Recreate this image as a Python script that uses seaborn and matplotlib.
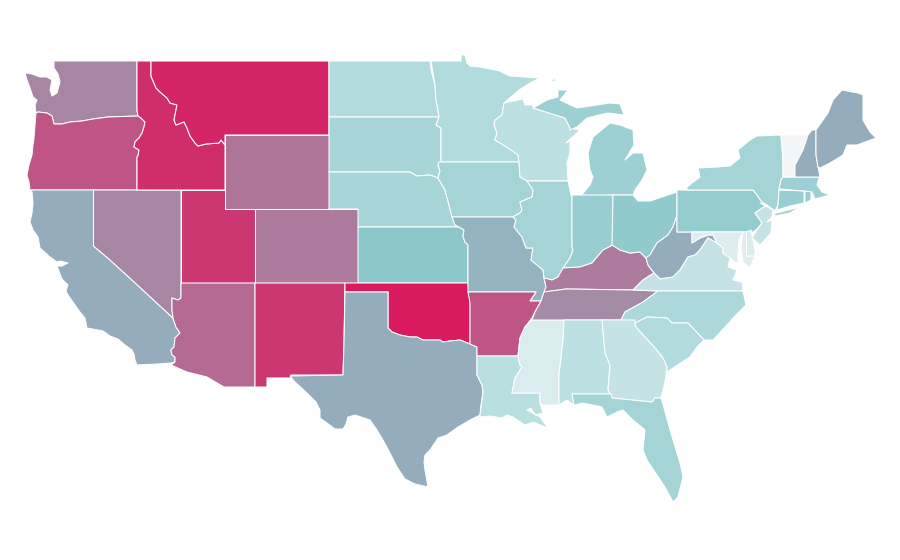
import matplotlib
matplotlib.use("Agg")
import matplotlib.pyplot as plt
from matplotlib.collections import PolyCollection
from matplotlib.colors import Normalize
import seaborn as sns

# State values on a 0-100 scale
states = ["WA","OR","CA","NV","ID","MT","WY","UT","AZ","CO","NM","ND","SD","NE","KS","OK","TX",
          "MN","IA","MO","AR","LA","WI","IL","MS","MI","IN","KY","TN","AL","OH","WV","VA","NC",
          "SC","GA","FL","PA","NY","MD","DE","NJ","CT","RI","MA","VT","NH","ME"]
values = [63,80,50,63,93,96,69,90,73,67,90,16,18,18,25,100,50,
          16,19,44,80,14,13,19,6,21,22,67,61,13,24,50,11,17,
          16,11,19,23,19,5,6,11,22,22,21,0,50,50]
scale_colors = ["#f4f5f7","#bfe1e3","#8cc8cb","#90bac3","#94adbc","#a688a5","#b7648e","#c83f76","#d91a5f"]

# Hand-traced, simplified outlines of the states (map geometry in figure pixels)
outlines = {
"WA":[[(54,61),(137,61),(137,110),(138,116),(108,117),(93,119),(82,121),(70,122),(62,124),(54,124),(52,116),(47,113),(38,112),(36,113),(35,105),(37,100),(33,97),(30,88),(27,80),(25,73),(32,74),(40,77),(47,77),(52,80),(50,90),(52,96),(57,93),(60,82),(58,74),(54,68)]],
"OR":[[(36,113),(38,112),(47,113),(52,116),(54,124),(62,124),(70,122),(82,121),(93,119),(108,117),(138,116),(141,118),(145,122),(144,127),(142,133),(139,138),(135,142),(134,147),(139,150),(138,156),(137,157),(137,190),(30,190),(29,182),(27,175),(29,165),(32,155),(33,145),(34,138),(35,125)]],
"CA":[[(31,190),(93.5,190),(93.5,246),(110,260),(132,280),(173,318),(176,327),(180,333),(175,338),(174,347),(171,350),(172,355),(175,357),(175,362),(171,363),(157,364),(137,365),(135,360),(134,354),(132,350),(125,345),(118,339),(110,336),(103,331),(98,330),(87,328),(85,318),(80,312),(75,305),(68,295),(66,291),(68,285),(62,279),(60,274),(57,266),(62,266),(68,263),(60,261),(57,262),(50,257),(40,248),(38,237),(33,230),(30,222),(32,213),(33,203),(32,192)]],
"NV":[[(93.5,190),(181,190),(181,298),(178,300),(172,298),(172,310),(173,318),(132,280),(110,260),(93.5,246)]],
"ID":[[(137,61),(151,61),(151,76),(156,88),(160,92),(167,98),(170,103),(177,105),(175,115),(174,120),(176,125),(184,122),(187,128),(190,136),(195,143),(198,146),(206,144),(219,143),(221,140),(225,145),(225,190),(137,190),(137,157),(138,156),(139,150),(134,147),(135,142),(139,138),(142,133),(144,127),(145,122),(141,118),(138,116),(137,110)]],
"MT":[[(151,61),(329,61),(329,135),(225,135),(225,145),(221,140),(219,143),(206,144),(198,146),(195,143),(190,136),(187,128),(184,122),(176,125),(174,120),(175,115),(177,105),(170,103),(167,98),(160,92),(156,88),(151,76)]],
"WY":[[(225,135),(329,135),(329,209),(225,209)]],
"UT":[[(181,190),(225,190),(225,209),(255,209),(255,283),(181,283)]],
"AZ":[[(181,283),(255,283),(255,387),(224,387),(207,377),(187,372),(171,365),(175,362),(175,357),(172,355),(171,350),(174,347),(175,338),(180,333),(176,327),(173,318),(172,310),(172,298),(178,300),(181,298)]],
"CO":[[(255,209),(358,209),(358,283),(255,283)]],
"NM":[[(255,283),(345,283),(344,343),(343,375),(291,375),(291,378),(267,378),(267,387),(255,387)]],
"ND":[[(329,61),(430,61),(431,70),(435,85),(436,100),(438,110),(439,117),(329,117)]],
"SD":[[(329,117),(439,117),(436,125),(441,128),(441,162),(438,165),(440,171),(438,178),(430,175),(417,176),(410,172),(345,172),(329,172)]],
"NE":[[(329,172),(345,172),(410,172),(417,176),(430,175),(438,178),(445,190),(449,205),(452,216),(455,225),(459,227),(358,227),(358,209),(329,209)]],
"KS":[[(358,227),(459,227),(464,230),(463,236),(465,242),(468,245),(468,283),(358,283)]],
"OK":[[(345,283),(468,283),(470,303),(470,344),(460,340),(450,341),(443,342),(440,340),(433,340),(423,340),(417,337),(410,337),(400,335),(392,332),(388,328),(388,292),(345,292)]],
"TX":[[(345,292),(388,292),(388,328),(392,332),(400,335),(410,337),(417,337),(423,340),(433,340),(440,340),(443,342),(450,341),(460,340),(470,344),(477,347),(477,375),(482,385),(483,392),(481,405),(480,415),(470,420),(458,427),(447,435),(438,438),(430,450),(425,455),(424,462),(425,470),(428,487),(415,484),(405,479),(397,467),(390,453),(383,440),(377,430),(370,420),(355,415),(348,417),(346,424),(343,429),(335,429),(327,423),(320,418),(320,410),(316,402),(307,393),(295,382),(290,376),(343,375),(344,343)]],
"MN":[[(431,61),(461,61),(461,55),(465,55),(467,63),(470,66),(480,67),(490,69),(500,71),(503,73),(510,76),(525,77),(540,78),(530,83),(519,90),(504,103),(502,115),(495,120),(494,125),(497,133),(495,140),(505,146),(515,152),(518,155),(519,162),(441,162),(441,128),(436,125),(439,117),(438,110),(436,100),(435,85)]],
"IA":[[(439,162),(519,162),(520,177),(527,181),(533,190),(532,197),(520,202),(522,210),(520,213),(513,217),(452,217),(449,205),(445,190),(438,178),(440,171),(438,165)]],
"MO":[[(452,217),(513,217),(516,220),(514,227),(522,237),(526,248),(533,248),(531,260),(543,270),(544,278),(546,287),(541,301),(530,301),(536,292),(468,292),(468,245),(465,242),(463,236),(464,230),(459,227),(455,225)]],
"AR":[[(468,292),(536,292),(530,301),(541,301),(535,312),(532,318),(525,327),(520,338),(518,356),(477,356),(477,347),(470,344),(470,303)]],
"LA":[[(477,356),(518,356),(520,365),(522,367),(515,378),(512,393),(540,393),(540,403),(543,413),(535,415),(531,408),(527,410),(540,417),(548,428),(533,422),(525,425),(513,417),(507,415),(502,418),(490,416),(480,417),(480,415),(483,392),(482,385),(477,375)]],
"WI":[[(504,103),(523,99),(525,105),(533,105),(533,108),(565,118),(570,128),(580,130),(566,143),(570,140),(570,153),(567,163),(568,181),(527,181),(520,177),(519,162),(518,155),(505,146),(495,140),(497,133),(494,125),(495,120),(502,115)]],
"IL":[[(527,181),(568,181),(571,195),(572,197),(572,247),(573,250),(570,258),(565,267),(563,272),(558,277),(552,280),(544,278),(543,270),(531,260),(533,248),(526,248),(522,237),(514,227),(516,220),(513,217),(520,213),(522,210),(520,202),(532,197),(533,190)]],
"MS":[[(532,320),(564,320),(563,340),(559,375),(559,405),(543,405),(540,403),(540,393),(512,393),(515,378),(522,367),(520,365),(518,356),(520,338),(525,327)]],
"MI":[[(580,197),(590,185),(593,177),(590,170),(588,153),(593,137),(610,123),(620,125),(633,130),(634,145),(625,160),(633,153),(643,153),(647,170),(642,180),(635,190),(633,195),(613,195)],
      [(533,108),(547,100),(558,97),(558,90),(568,90),(560,100),(577,108),(597,105),(610,103),(620,104),(624,115),(608,113),(603,114),(587,118),(577,127),(570,130),(570,128),(565,118)],
      [(549,82),(556,78),(555,81)]],
"IN":[[(572,195),(613,195),(613,245),(603,250),(592,263),(580,267),(563,268),(570,258),(573,250),(572,247)]],
"OH":[[(613,195),(633,195),(638,201),(650,201),(677,192),(677,215),(673,227),(668,235),(657,243),(650,255),(646,258),(640,252),(630,253),(620,250),(612,245)]],
"KY":[[(544,278),(552,280),(558,277),(563,268),(580,267),(592,263),(603,250),(613,245),(620,250),(630,253),(640,252),(646,258),(648,265),(654,273),(643,280),(633,290),(566,289),(544,292),(546,287)]],
"TN":[[(544,292),(566,289),(633,290),(658,291),(643,302),(625,312),(621,320),(564,320),(532,320),(535,312),(541,301)]],
"AL":[[(564,320),(602,320),(605,353),(610,365),(608,390),(611,394),(572,394),(574,405),(567,400),(559,405),(559,375),(563,340)]],
"GA":[[(602,320),(635,320),(635,326),(643,335),(655,348),(663,358),(667,367),(666,375),(665,382),(661,398),(655,398),(652,402),(612,398),(608,390),(610,365),(605,353)]],
"FL":[[(572,394),(611,394),(612,398),(652,402),(655,398),(661,398),(664,408),(670,430),(680,463),(683,477),(678,497),(673,502),(665,487),(657,475),(647,460),(643,450),(645,430),(633,420),(623,410),(617,412),(607,417),(602,407),(583,403),(574,405)]],
"SC":[[(635,323),(647,317),(667,318),(672,323),(688,323),(704,340),(697,347),(690,357),(673,368),(667,372),(667,367),(663,358),(655,348),(643,335),(635,326)]],
"NC":[[(658,291),(743,291),(746,305),(733,318),(727,325),(713,340),(704,340),(688,323),(672,323),(667,318),(647,317),(635,323),(621,320),(625,312),(643,302)]],
"VA":[[(633,290),(643,280),(654,273),(660,279),(673,277),(680,270),(688,257),(695,255),(700,250),(708,238),(717,243),(723,248),(723,253),(730,258),(728,267),(737,270),(733,280),(742,282),(743,291),(658,291)]],
"WV":[[(677,215),(677,232),(692,232),(692,243),(700,238),(708,235),(713,235),(717,243),(708,238),(700,250),(695,255),(688,257),(680,270),(673,277),(660,279),(654,273),(648,265),(646,258),(650,255),(657,243),(668,235),(673,227)]],
"PA":[[(677,190),(753,190),(757,195),(762,202),(767,205),(755,213),(762,223),(757,229),(753,232),(677,232)]],
"NY":[[(687,190),(687,187),(700,177),(698,168),(718,167),(730,166),(740,158),(738,150),(750,140),(757,136),(781,135),(783,160),(783,177),(781,180),(779,190),(778,205),(775,211),(767,205),(762,202),(757,195),(753,190)],
      [(773,214),(800,207),(790,213),(776,216)]],
"MD":[[(692,232),(743,232),(739,240),(738,255),(738,264),(730,258),(723,253),(723,248),(717,243),(713,235),(708,235),(700,238),(692,243)],
      [(743,232),(746.5,232),(746.5,256),(755,256),(750,268),(743,262),(741,248)]],
"DE":[[(746.5,232),(751,230),(755,250),(755,256),(746.5,256)]],
"NJ":[[(760,203),(773,210),(772,217),(767,222),(772,220),(771,233),(760,245),(752,238),(755,233),(762,223),(755,213),(767,205)]],
"CT":[[(779,190),(804,191),(804,203),(790,206),(777,210),(778,205)]],
"RI":[[(805,191),(811,191),(811,200),(805,203)]],
"MA":[[(783,177),(820,177),(820,175),(817,185),(822,192),(830,195),(815,199),(812,192),(805,191),(779,189),(781,180)]],
"VT":[[(781,135),(808,135),(803,150),(795,165),(795,177),(783,177),(783,160)]],
"NH":[[(808,135),(812,130),(816,130),(816,155),(818,167),(820,177),(795,177),(795,165),(803,150)]],
"ME":[[(816,130),(828,113),(833,100),(842,90),(858,93),(863,95),(863,120),(870,132),(876,138),(857,145),(847,145),(843,155),(830,163),(820,168),(818,167),(816,155)]],
}

sns.set_theme(style="white")
fig, ax = plt.subplots(figsize=(9, 5.6), dpi=100)
fig.subplots_adjust(0, 0, 1, 1)

cmap = sns.blend_palette(scale_colors, as_cmap=True)
polys, poly_values = [], []
for state, value in zip(states, values):
    for ring in outlines[state]:
        polys.append(ring)
        poly_values.append(value)

coll = PolyCollection(polys, array=poly_values, cmap=cmap, norm=Normalize(0, 100),
                      edgecolors="white", linewidths=0.75)
ax.add_collection(coll)
ax.set_xlim(0, 900)
ax.set_ylim(560, 0)
ax.axis("off")
fig.savefig("out.png", dpi=100, facecolor="white")
